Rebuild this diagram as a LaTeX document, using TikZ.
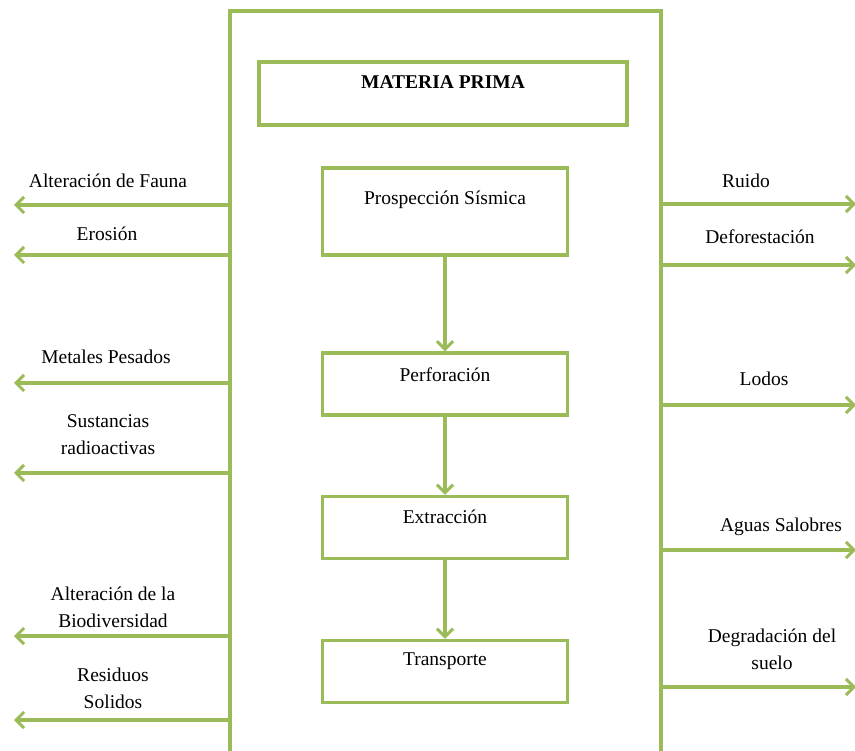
\documentclass[tikz,border=0pt]{standalone}
\usepackage{fontspec}
\setmainfont{Liberation Serif}
\usetikzlibrary{arrows.meta}
\definecolor{leaf}{HTML}{9BBB59}
\tikzset{
  boxstyle/.style={draw=leaf, line width=3.4pt, minimum width=245pt, minimum height=62pt, inner sep=0pt},
  flow/.style={draw=leaf, line width=3.4pt, -{Straight Barb[length=8pt,width=16pt,line width=3pt]}},
  label/.style={font=\fontsize{19.5}{27}\selectfont, align=center, inner sep=0pt},
}
\begin{document}
\begin{tikzpicture}[x=1pt,y=-1pt]
\useasboundingbox (0,0) rectangle (855,751);
% outer frame, open at the bottom
\draw[leaf, line width=3.4pt] (230,760) -- (230,11) -- (661,11) -- (661,760);
% process boxes
\node[boxstyle, minimum width=368pt, minimum height=63pt] (mp) at (443,93.5) {};
\node[label, font=\bfseries\fontsize{19.5}{27}\selectfont] (mpt) at (443,82) {MATERIA PRIMA};
\node[boxstyle, minimum height=87pt] (pro) at (445,211.5) {};
\node[label] (prot) at (445,200) {Prospección Sísmica};
\node[boxstyle] (per) at (445,384) {};
\node[label] (pert) at (445,375) {Perforación};
\node[boxstyle] (ext) at (445,527.5) {};
\node[label] (extt) at (445,517) {Extracción};
\node[boxstyle] (tra) at (445,671.5) {};
\node[label] (trat) at (445,661) {Transporte};
\draw[flow] (pro.south) -- (per.north);
\draw[flow] (per.south) -- (ext.north);
\draw[flow] (ext.south) -- (tra.north);
% left outputs
\foreach \n/\y in {l1/205,l2/255,l3/383,l4/473,l5/636,l6/720}{
  \coordinate (\n s) at (230,\y);
  \coordinate (\n e) at (14,\y);
  \draw[flow] (\n s) -- (\n e);
}
\node[label] (t1) at (108,181) {Alteración de Fauna};
\node[label] (t2) at (107,234) {Erosión};
\node[label] (t3) at (106,357) {Metales Pesados};
\node[label] (t4) at (108,434.5) {Sustancias\\radioactivas};
\node[label] (t5) at (113,607) {Alteración de la\\Biodiversidad};
\node[label] (t6) at (113,688.5) {Residuos\\Solidos};
% right outputs
\foreach \n/\y in {r1/204,r2/265,r3/405,r4/550,r5/687}{
  \coordinate (\n s) at (661,\y);
  \coordinate (\n e) at (856,\y);
  \draw[flow] (\n s) -- (\n e);
}
\node[label] (u1) at (746,181) {Ruido};
\node[label] (u2) at (760,237) {Deforestación};
\node[label] (u3) at (764,379) {Lodos};
\node[label] (u4) at (781,527) {Aguas Salobres};
\node[label] (u5) at (772,649.5) {Degradación del\\suelo};
\end{tikzpicture}
\end{document}
